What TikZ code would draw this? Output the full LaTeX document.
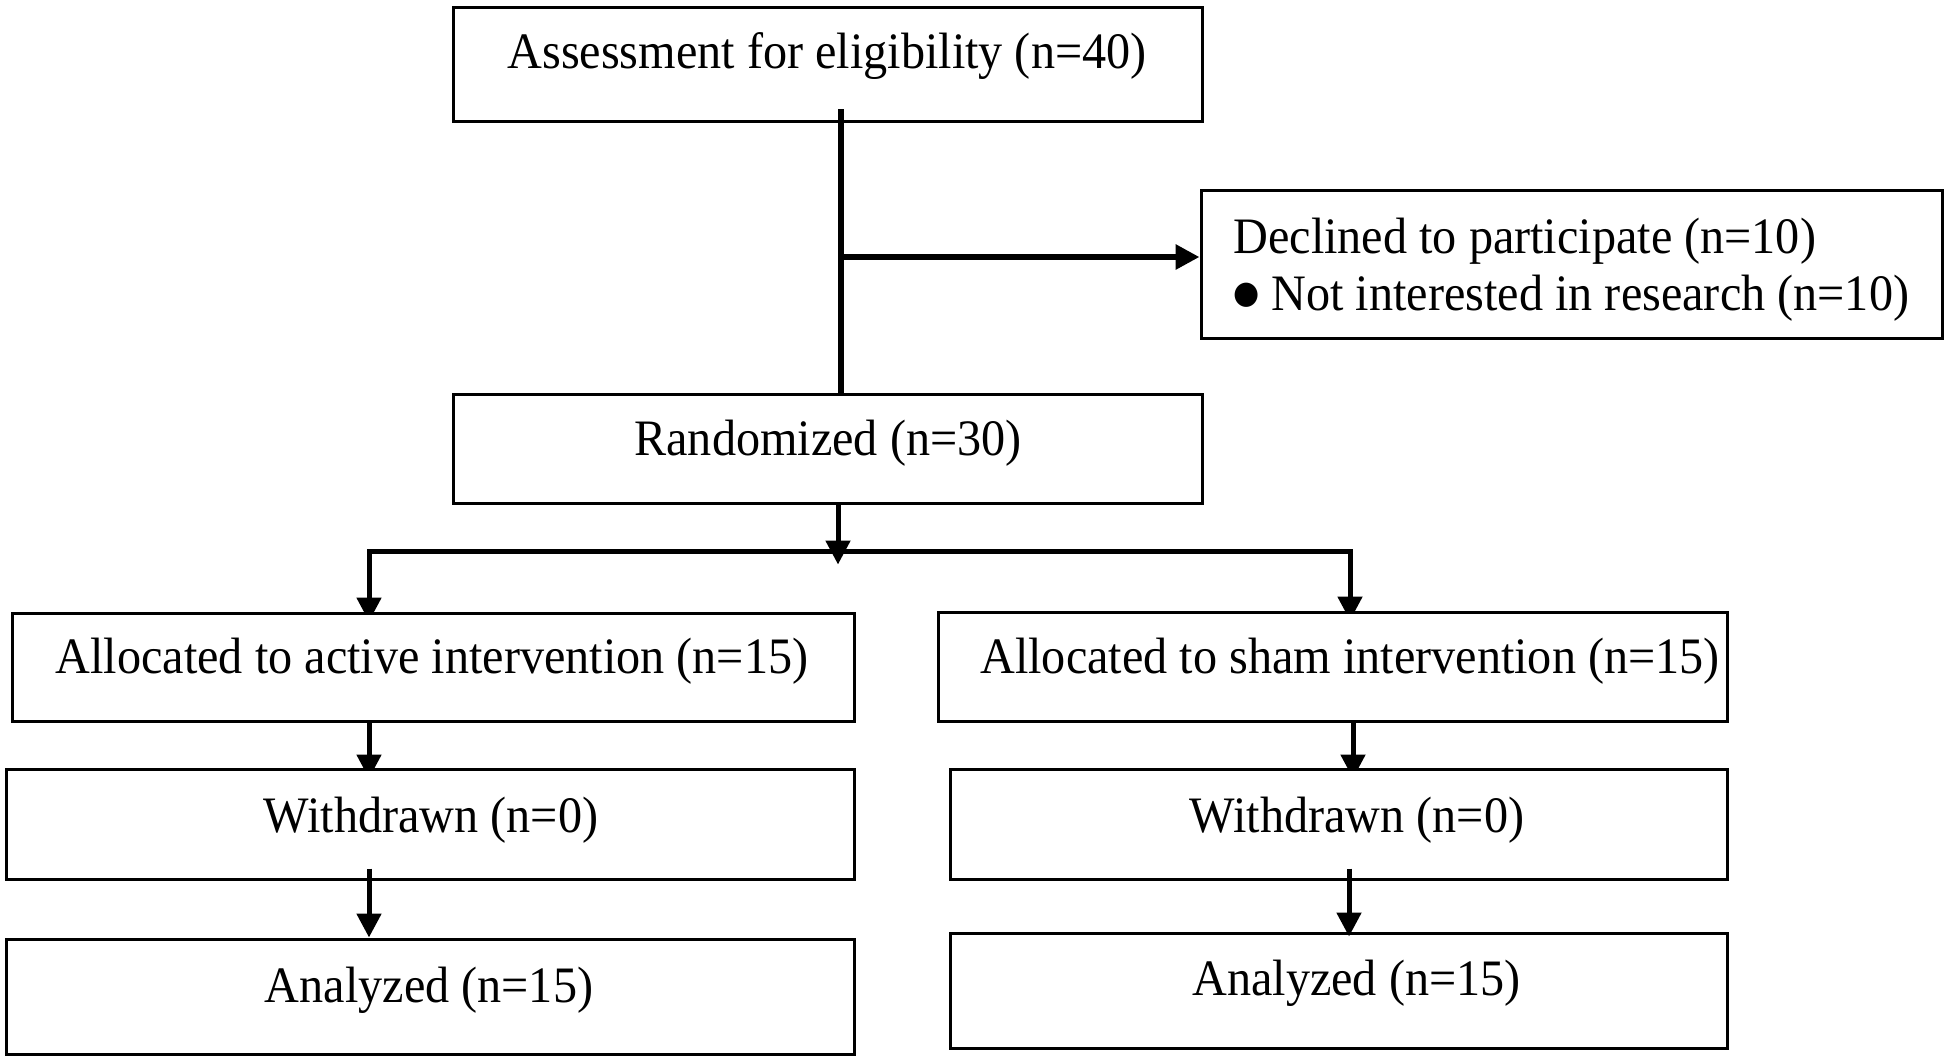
\documentclass[tikz,border=0pt]{standalone}
\usepackage{fontspec}
\setmainfont{Liberation Serif}
\newfontfamily\symfont{DejaVu Sans}
\usepackage{graphicx}
\usetikzlibrary{arrows.meta,backgrounds,calc}
\newcommand{\vstretch}[1]{\scalebox{1}[1.06]{#1}}
\newcommand{\bigbullet}{\raisebox{3pt}{\fontsize{15}{15}\symfont ●}}
\begin{document}
\begin{tikzpicture}[x=0.5pt,y=-0.5pt,
  box/.style={draw=black, line width=1.5pt, fill=white, inner sep=0pt, rectangle},
  lbl/.style={inner sep=0pt, anchor=base, font=\fontsize{24.1}{29}\selectfont},
  trunk/.style={line width=3.25pt},
  conn/.style={line width=2.5pt},
  tipped/.style={-{Triangle[length=12pt,width=12pt]}}
]
\useasboundingbox (0,0) rectangle (1950,1062);

% boxes
\node[box, minimum width=374.5pt, minimum height=57pt]   (assess)   at (827.5,64)    {};
\node[box, minimum width=370.5pt, minimum height=74pt]   (declined) at (1571.5,264)  {};
\node[box, minimum width=374.5pt, minimum height=54.5pt] (random)   at (827.5,448.5) {};
\node[box, minimum width=421pt,   minimum height=54pt]   (active)   at (433,667)     {};
\node[box, minimum width=394.5pt, minimum height=54.5pt] (sham)     at (1332.5,666.5){};
\node[box, minimum width=424pt,   minimum height=55pt]   (wl)       at (430,824)     {};
\node[box, minimum width=388.5pt, minimum height=55pt]   (wr)       at (1338.5,824)  {};
\node[box, minimum width=424pt,   minimum height=57.5pt] (al)       at (430,996.5)   {};
\node[box, minimum width=388.5pt, minimum height=57.5pt] (ar)       at (1338.5,990.5){};

% texts
\node[lbl] (tassess) at (827,68)   {\vstretch{Assessment for eligibility (n=40)}};
\node[lbl, anchor=base west] (tdec1) at (1233,253) {\vstretch{Declined to participate (n=10)}};
\node[lbl, anchor=base west] (tdec2) at (1233,310) {\vstretch{\bigbullet{} Not interested in research (n=10)}};
\node[lbl] (trandom) at (828,455)  {\vstretch{Randomized (n=30)}};
\node[lbl] (tactive) at (432,673)  {\vstretch{Allocated to active intervention (n=15)}};
\node[lbl] (tsham)   at (1350,673) {\vstretch{Allocated to sham intervention (n=15)}};
\node[lbl] (twl)     at (431,832)  {\vstretch{Withdrawn (n=0)}};
\node[lbl] (twr)     at (1357,832) {\vstretch{Withdrawn (n=0)}};
\node[lbl] (tal)     at (429,1002) {\vstretch{Analyzed (n=15)}};
\node[lbl] (tar)     at (1356.5,995) {\vstretch{Analyzed (n=15)}};

% connector helper points
\coordinate (tA) at (841,109);
\coordinate (tB) at (841,257);
\coordinate (rS) at (838,503);
\coordinate (jL) at (369,551);
\coordinate (jR) at (1350,551);
\coordinate (xR1) at (1353,0);
\coordinate (xR2) at (1349,0);

% connectors
\draw[trunk] (tA) -- (tA |- random.north);
\draw[trunk,tipped] (tB) -- (tB -| declined.west);
\draw[conn,tipped] (rS |- random.south) -- ($(rS |- random.south)+(0,60)$);

\begin{scope}[on background layer]
\draw[conn,tipped] (jR) -- (jL) -- ($(jL |- active.north)+(0,10)$);
\draw[conn,tipped] (jL) -- (jR) -- ($(jR |- sham.north)+(0,10)$);
\draw[conn,tipped] (jL |- active.south) -- ($(jL |- wl.north)+(0,11)$);
\draw[conn,tipped] (xR1 |- sham.south) -- ($(xR1 |- wr.north)+(0,11)$);
\end{scope}

\draw[conn,tipped] ($(jL |- wl.south)+(0,-12)$) -- (jL |- al.north);
\draw[conn,tipped] ($(xR2 |- wr.south)+(0,-12)$) -- ($(xR2 |- ar.north)+(0,5)$);
\end{tikzpicture}
\end{document}
